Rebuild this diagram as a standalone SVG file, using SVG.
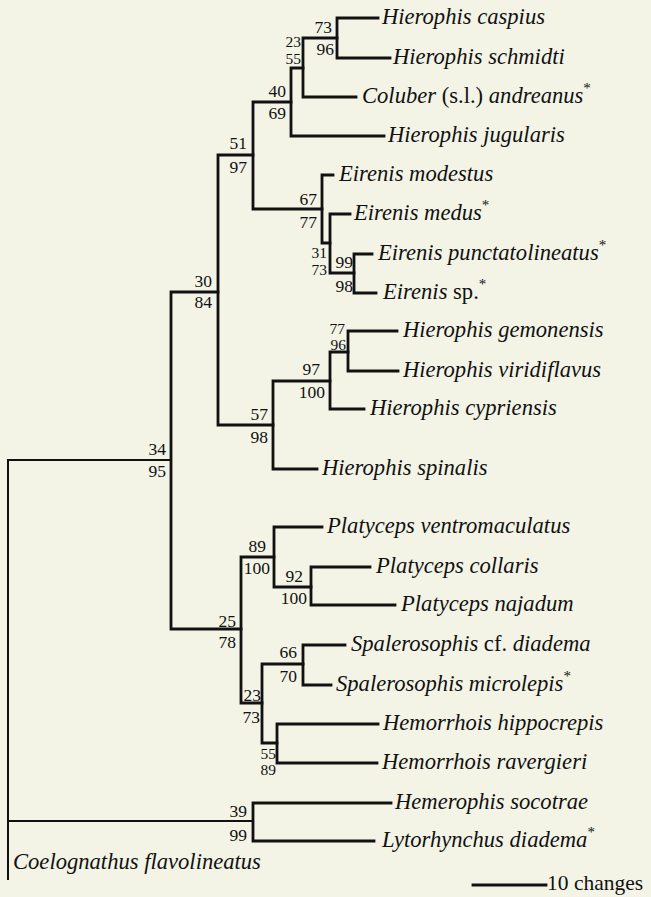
<svg xmlns="http://www.w3.org/2000/svg" width="651" height="897" viewBox="0 0 651 897">
<style>
.bg{fill:#f3f4e6}
.br{fill:none;stroke:#111;stroke-width:2.8;stroke-linecap:square}
.rt{fill:none;stroke:#111;stroke-width:2;stroke-linecap:square}
.tx{font-family:"Liberation Serif","Times New Roman",serif;font-style:italic;font-size:22.6px;fill:#111}
.rm{font-style:normal}
.sup{font-style:normal;font-size:15px}
.lb{font-family:"Liberation Serif","Times New Roman",serif;font-size:17.5px;fill:#111;text-anchor:end}
.sm{font-size:15.5px}
.sc{font-family:"Liberation Serif","Times New Roman",serif;font-size:21.5px;fill:#111}
</style>
<rect class="bg" x="0" y="0" width="651" height="897"/>
<g id="connectors">
<path class="rt" d="M8,460V879M8,460H171M8,821H253"/>
<path class="br" d="M171,292V629M171,292H218M171,629H241"/>
<path class="br" d="M218,155V425M218,155H253M218,425H273"/>
<path class="br" d="M253,102V209M253,102H291M253,209H322"/>
<path class="br" d="M291,68V136M291,68H303M291,136H384"/>
<path class="br" d="M303,38V97M303,38H337M303,97H356"/>
<path class="br" d="M337,18V58M337,18H378M337,58H390"/>
<path class="br" d="M322,175V243M322,175H333M322,243H330"/>
<path class="br" d="M330,214V273M330,214H350M330,273H354"/>
<path class="br" d="M354,254V293M354,254H372M354,293H376"/>
<path class="br" d="M273,381V469M273,381H330M273,469H317"/>
<path class="br" d="M330,352V409M330,352H348M330,409H364"/>
<path class="br" d="M348,331V371M348,331H397M348,371H398"/>
<path class="br" d="M241,557V703M241,557H274M241,703H262"/>
<path class="br" d="M274,527V587M274,527H322M274,587H311"/>
<path class="br" d="M311,567V605M311,567H370M311,605H395"/>
<path class="br" d="M262,664V743M262,664H303M262,743H277"/>
<path class="br" d="M303,645V685M303,645H345M303,685H331"/>
<path class="br" d="M277,724V763M277,724H378M277,763H377"/>
<path class="br" d="M253,803V841M253,803H391M253,841H374"/>
<path class="br" d="M473,885H546"/>
</g>
<g id="support-labels">
<text class="lb" x="332" y="33">73</text><text class="lb" x="334" y="55">96</text>
<text class="lb sm" x="301" y="47">23</text><text class="lb sm" x="301" y="64">55</text>
<text class="lb" x="286" y="97">40</text><text class="lb" x="286" y="119">69</text>
<text class="lb" x="247" y="149">51</text><text class="lb" x="247" y="173">97</text>
<text class="lb" x="317" y="205">67</text><text class="lb" x="317" y="228">77</text>
<text class="lb sm" x="327" y="258">31</text><text class="lb sm" x="327" y="275">73</text>
<text class="lb" x="353" y="268">99</text><text class="lb" x="353" y="292">98</text>
<text class="lb" x="212" y="287">30</text><text class="lb" x="212" y="308">84</text>
<text class="lb sm" x="345" y="334">77</text><text class="lb sm" x="346" y="350">96</text>
<text class="lb" x="320" y="375">97</text><text class="lb" x="325" y="398">100</text>
<text class="lb" x="268" y="420">57</text><text class="lb" x="268" y="443">98</text>
<text class="lb" x="166" y="455">34</text><text class="lb" x="166" y="477">95</text>
<text class="lb" x="266" y="552">89</text><text class="lb" x="270" y="574">100</text>
<text class="lb" x="303" y="582">92</text><text class="lb" x="307" y="604">100</text>
<text class="lb" x="236" y="627">25</text><text class="lb" x="236" y="648">78</text>
<text class="lb" x="261" y="701">23</text><text class="lb" x="260" y="723">73</text>
<text class="lb" x="297" y="658">66</text><text class="lb" x="297" y="682">70</text>
<text class="lb sm" x="276" y="759">55</text><text class="lb sm" x="276" y="775">89</text>
<text class="lb" x="247" y="817">39</text><text class="lb" x="247" y="841">99</text>
</g>
<g id="t-caspius"><text class="tx" x="382" y="24">Hierophis caspius</text></g>
<g id="t-schmidti"><text class="tx" x="393" y="64">Hierophis schmidti</text></g>
<g id="t-andreanus"><text class="tx" x="362" y="103">Coluber <tspan class="rm">(s.l.)</tspan> andreanus<tspan class="sup" dy="-10">*</tspan></text></g>
<g id="t-jugularis"><text class="tx" x="388" y="142">Hierophis jugularis</text></g>
<g id="t-modestus"><text class="tx" x="339" y="181">Eirenis modestus</text></g>
<g id="t-medus"><text class="tx" x="354" y="220">Eirenis medus<tspan class="sup" dy="-10">*</tspan></text></g>
<g id="t-punctatolineatus"><text class="tx" x="378" y="260">Eirenis punctatolineatus<tspan class="sup" dy="-10">*</tspan></text></g>
<g id="t-sp"><text class="tx" x="383" y="299">Eirenis <tspan class="rm">sp.</tspan><tspan class="sup" dy="-10">*</tspan></text></g>
<g id="t-gemonensis"><text class="tx" x="403" y="337">Hierophis gemonensis</text></g>
<g id="t-viridiflavus"><text class="tx" x="403" y="377">Hierophis viridiflavus</text></g>
<g id="t-cypriensis"><text class="tx" x="370" y="415">Hierophis cypriensis</text></g>
<g id="t-spinalis"><text class="tx" x="322" y="475">Hierophis spinalis</text></g>
<g id="t-ventromaculatus"><text class="tx" x="327" y="533">Platyceps ventromaculatus</text></g>
<g id="t-collaris"><text class="tx" x="376" y="573">Platyceps collaris</text></g>
<g id="t-najadum"><text class="tx" x="401" y="611">Platyceps najadum</text></g>
<g id="t-diadema"><text class="tx" x="351" y="651">Spalerosophis <tspan class="rm">cf.</tspan> diadema</text></g>
<g id="t-microlepis"><text class="tx" x="336" y="691">Spalerosophis microlepis<tspan class="sup" dy="-10">*</tspan></text></g>
<g id="t-hippocrepis"><text class="tx" x="383" y="730">Hemorrhois hippocrepis</text></g>
<g id="t-ravergieri"><text class="tx" x="382" y="769">Hemorrhois ravergieri</text></g>
<g id="t-socotrae"><text class="tx" x="395" y="809">Hemerophis socotrae</text></g>
<g id="t-lytorhynchus"><text class="tx" x="382" y="847">Lytorhynchus diadema<tspan class="sup" dy="-10">*</tspan></text></g>
<g id="t-coelognathus"><text class="tx" x="13" y="869">Coelognathus flavolineatus</text></g>
<g id="scale"><text class="sc" x="547" y="890">10 changes</text></g>
</svg>
